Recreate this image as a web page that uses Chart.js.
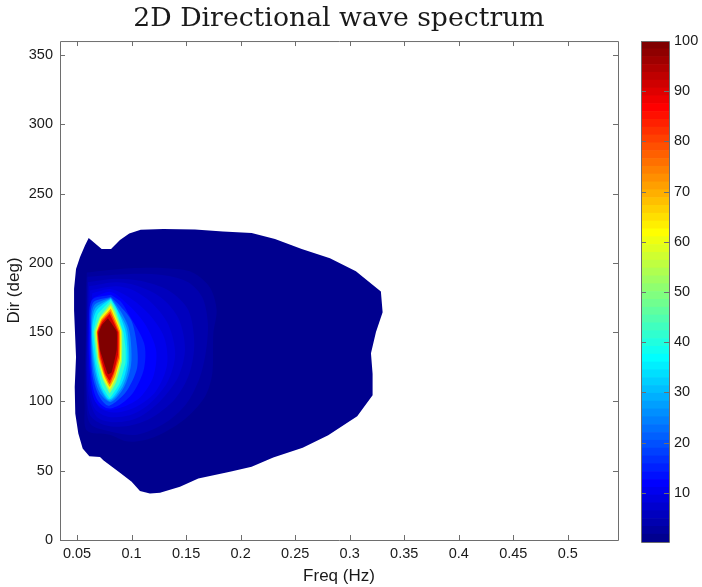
<!DOCTYPE html>
<html>
<head>
<meta charset="utf-8">
<title>2D Directional wave spectrum</title>
<script src="https://cdn.jsdelivr.net/npm/chart.js@4/dist/chart.umd.min.js"></script>
<style>
    body { margin: 0; background: #fff; }
    canvas { position: absolute; top: 0; }
    #spectrum { left: 0; }
    #colorbar { left: 620px; }
</style>
</head>
<body>
<canvas id="spectrum" width="702" height="587"></canvas>
<canvas id="colorbar" width="82" height="587"></canvas>
<script>
// Axis ticks
const freqTicks = [0.05, 0.1, 0.15, 0.2, 0.25, 0.3, 0.35, 0.4, 0.45, 0.5];
const dirTicks = [0, 50, 100, 150, 200, 250, 300, 350];
const colorTicks = [10, 20, 30, 40, 50, 60, 70, 80, 90, 100];

// Contour outlines, [freq, dir], outermost first
const level1 = [[.0607,217.9],[.0726,210],[.0812,210],[.0894,216.5],[.0979,221.2],[.1084,223.9],[.1291,224.4],[.1582,224.1],[.1838,222.5],[.2101,221.5],[.2315,217.2],[.256,210],[.2819,203.2],[.3057,193.9],[.3286,179.3],[.3302,164.4],[.3241,150],[.3195,134.8],[.321,120],[.321,104.4],[.3069,89.3],[.2803,75.6],[.2569,66.5],[.2299,59.5],[.2101,52.8],[.1902,49.2],[.1612,44.4],[.1444,38.4],[.1261,34.1],[.1169,33.6],[.1077,35.3],[.1001,42],[.0894,48.5],[.0741,57.6],[.0711,59.8],[.0613,60.5],[.0552,66],[.0512,76.8],[.0484,91.2],[.0479,110.4],[.0491,132],[.0473,165.6],[.0473,181.2],[.0491,195.6],[.0527,204],[.0573,212.4],[.0607,217.9]];
const level3 = [[.059,193],[.099,196],[.132,196],[.156,193],[.172,182],[.178,166],[.175,149],[.174,120],[.167,103],[.147,86],[.12,74],[.097,71],[.08,76],[.059,79],[.057,96],[.057,120],[.058,149],[.058,178],[.059,193]];
const level4 = [[.0595,190],[.099,192],[.13,191],[.152,186],[.165,175],[.17,156],[.168,135],[.162,116],[.15,98],[.13,84],[.105,76],[.082,78],[.062,84],[.0585,105],[.0585,150],[.0595,190]];
const level6 = [[.06,186],[.085,188.5],[.108,187],[.134,180],[.152,166],[.1575,142],[.153,120],[.14,102],[.118,88],[.095,82],[.075,83],[.062,90],[.059,108],[.059,150],[.06,186]];
const level7 = [[.061,183],[.085,186],[.105,183.5],[.127,175],[.143,160],[.149,138],[.143,118],[.126,100],[.105,88],[.085,85],[.068,89],[.06,108],[.0595,150],[.061,183]];
const level9 = [[.062,180],[.085,183],[.102,180],[.12,170],[.134,155],[.14,134],[.133,114],[.116,98],[.098,90],[.078,89],[.066,95],[.061,112],[.06,150],[.062,180]];
const level10 = [[.064,178],[.081,181],[.098,175],[.116,163],[.13,146],[.1325,126],[.122,107],[.104,96],[.085,92],[.07,96],[.063,112],[.0605,150],[.064,178]];
const level12 = [[.065,175],[.081,179],[.098,169],[.113,155],[.1225,137],[.12,118],[.108,103],[.092,96],[.076,94],[.066,101],[.062,118],[.061,150],[.065,175]];
const level15 = [[.081,177],[.09,172],[.0965,164],[.1115,142],[.1115,124],[.102,107],[.09,98],[.078,95],[.068,102],[.063,118],[.0615,150],[.0635,173],[.081,177]];
const level20 = [[.081,175.5],[.0894,169],[.1,158],[.105,140],[.105,124],[.096,108],[.086,100],[.078,97],[.07,104],[.064,120],[.0625,150],[.0645,171],[.081,175.5]];
const level25 = [[.081,175],[.09,165],[.097,154],[.0995,142],[.0995,126],[.093,110],[.081,99.5],[.071,106],[.065,122],[.063,150],[.0655,169],[.081,175]];
const level30 = [[.081,174.5],[.088,165],[.0955,153],[.0975,140],[.0975,126],[.092,111],[.08,100.5],[.072,108],[.066,124],[.0635,150],[.0665,167],[.081,174.5]];
const level35 = [[.081,174],[.087,166],[.094,152],[.096,140],[.096,127],[.091,113],[.08,101.5],[.072,110],[.067,125],[.064,150],[.0675,165],[.081,174]];
const level42 = [[.081,173],[.086,166],[.0925,150],[.0945,138],[.0945,128],[.089,113],[.08,102.5],[.073,111],[.068,127],[.065,150],[.069,163],[.081,173]];
const level52 = [[.081,171],[.085,165],[.0913,151],[.0913,129],[.086,114],[.08,106],[.074,115],[.069,129],[.066,150],[.071,161],[.081,171]];
const level62 = [[.081,169],[.0903,151],[.0903,130],[.085,116],[.08,108.5],[.074,117],[.07,130],[.0675,150],[.0715,160],[.081,169]];
const level72 = [[.081,167],[.0894,151],[.0894,131],[.085,118],[.08,110.5],[.075,118],[.07,131],[.068,150],[.072,159],[.081,167]];
const level82 = [[.0805,165],[.0885,150],[.0885,132],[.084,120],[.08,112.5],[.075,120],[.071,131],[.0685,150],[.0725,158],[.0805,165]];
const level92 = [[.08,163],[.0876,150],[.0876,134],[.084,122],[.08,115],[.076,120],[.0715,133],[.069,150],[.073,157],[.08,163]];
const level100 = [[.0784,160],[.0864,150.5],[.0864,137],[.0818,121],[.0784,119.5],[.0711,137],[.0697,149],[.0727,155],[.0784,160]];

const contourLevels = [1.5, 3, 4.5, 6, 7.5, 9, 10.5, 12.5, 15.5, 20.5, 25.5, 30.5, 35.5, 42, 52, 62, 72, 82, 92, 100];
const contourLines = [level1, level3, level4, level6, level7, level9, level10, level12, level15, level20,
    level25, level30, level35, level42, level52, level62, level72, level82, level92, level100];

// Edges of the colour bar bands
const colorEdges = [0.2, 1.76, 3.32, 4.88, 6.44, 8, 9.56, 11.11, 12.67, 14.23, 15.79, 17.35, 18.91, 20.47, 22.03, 23.59,
    25.15, 26.71, 28.27, 29.83, 31.39, 32.95, 34.51, 36.07, 37.63, 39.19, 40.75, 42.3, 43.86, 45.42, 46.98, 48.54,
    50.1, 51.66, 53.22, 54.78, 56.34, 57.9, 59.46, 61.02, 62.58, 64.14, 65.7, 67.26, 68.82, 70.38, 71.94, 73.5,
    75.05, 76.61, 78.17, 79.73, 81.29, 82.85, 84.41, 85.97, 87.53, 89.09, 90.65, 92.21, 93.77, 95.33, 96.89, 98.44, 100];

const AXIS_COLOR = '#6e6e6e';
const TEXT_COLOR = '#1a1a1a';
const SANS = '"Liberation Sans", Arial, sans-serif';

// matlab style jet colormap, t from 0 to 1
function jet(t) {
    const part = v => Math.round(255 * Math.max(0, Math.min(1, 1.5 - Math.abs(4 * t - v))));
    return `rgb(${part(3)}, ${part(2)}, ${part(1)})`;
}

// Box round the plot with ticks pointing inwards, on both sides
const insideTicks = {
    id: 'insideTicks',
    afterDatasetsDraw(chart, args, opts) {
        const { ctx, chartArea: a } = chart;
        ctx.save();
        ctx.strokeStyle = AXIS_COLOR;
        ctx.lineWidth = 1;
        ctx.beginPath();
        ctx.rect(a.left + 0.5, a.top + 0.5, a.right - a.left, a.bottom - a.top);
        const xScale = chart.scales.x;
        if (xScale.options.display) {
            xScale.ticks.forEach(t => {
                const x = Math.round(xScale.getPixelForValue(t.value)) + 0.5;
                ctx.moveTo(x, a.bottom); ctx.lineTo(x, a.bottom - opts.length);
                ctx.moveTo(x, a.top); ctx.lineTo(x, a.top + opts.length);
            });
        }
        const yScale = chart.scales.y;
        yScale.ticks.forEach(t => {
            const y = Math.round(yScale.getPixelForValue(t.value)) + 0.5;
            ctx.moveTo(a.left, y); ctx.lineTo(a.left + opts.length, y);
            ctx.moveTo(a.right, y); ctx.lineTo(a.right - opts.length, y);
        });
        ctx.stroke();
        ctx.restore();
    }
};

new Chart(document.getElementById('spectrum'), {
    type: 'scatter',
    plugins: [insideTicks],
    data: {
        datasets: contourLines.map((line, i) => ({
            data: line.map(p => ({ x: p[0], y: p[1] })),
            showLine: true,
            fill: 'shape',
            backgroundColor: jet(contourLevels[i] / 100),
            borderWidth: 0,
            pointRadius: 0,
            tension: i === 0 ? 0 : (i < 13 ? 0.3 : 0.1),
            order: -i
        }))
    },
    options: {
        responsive: false,
        animation: false,
        events: [],
        layout: { padding: { right: 84 } },
        plugins: {
            legend: { display: false },
            tooltip: { enabled: false },
            insideTicks: { length: 5 },
            title: {
                display: true,
                fullSize: false,
                text: '2D Directional wave spectrum',
                color: TEXT_COLOR,
                font: { family: '"DejaVu Serif", serif', size: 26.7, weight: 'normal', lineHeight: 1.2 },
                padding: { top: 3, bottom: 6 }
            }
        },
        scales: {
            x: {
                type: 'linear',
                min: 0.0344,
                max: 0.546,
                afterBuildTicks: axis => { axis.ticks = freqTicks.map(v => ({ value: v })); },
                afterFit: axis => { axis.height = 47; },
                grid: { display: false, drawTicks: false },
                border: { display: false },
                ticks: {
                    color: TEXT_COLOR, padding: 5, maxRotation: 0, autoSkip: false,
                    font: { family: SANS, size: 14.5 },
                    callback: v => String(v)
                },
                title: { display: true, text: 'Freq (Hz)', color: TEXT_COLOR, font: { family: SANS, size: 17 }, padding: 0 }
            },
            y: {
                type: 'linear',
                min: 0,
                max: 360,
                afterBuildTicks: axis => { axis.ticks = dirTicks.map(v => ({ value: v })); },
                afterFit: axis => { axis.width = 60; },
                grid: { display: false, drawTicks: false },
                border: { display: false },
                ticks: {
                    color: TEXT_COLOR, padding: 7, autoSkip: false,
                    font: { family: SANS, size: 14.5 },
                    callback: v => String(v)
                },
                title: { display: true, text: 'Dir (deg)', color: TEXT_COLOR, font: { family: SANS, size: 17 }, padding: { top: 4, bottom: 0 } }
            }
        }
    }
});

new Chart(document.getElementById('colorbar'), {
    type: 'bar',
    plugins: [insideTicks],
    data: {
        labels: [''],
        datasets: colorEdges.slice(1).map((top, i) => ({
            data: [[colorEdges[i], top]],
            backgroundColor: jet((i + 1) / (colorEdges.length - 1)),
            borderWidth: 0,
            barPercentage: 1,
            categoryPercentage: 1,
            grouped: false
        }))
    },
    options: {
        responsive: false,
        animation: false,
        events: [],
        layout: { padding: { left: 21, top: 41, bottom: 45 } },
        plugins: {
            legend: { display: false },
            tooltip: { enabled: false },
            insideTicks: { length: 5 }
        },
        scales: {
            x: { display: false },
            y: {
                position: 'right',
                min: 0.2,
                max: 100,
                afterBuildTicks: axis => { axis.ticks = colorTicks.map(v => ({ value: v })); },
                afterFit: axis => { axis.width = 33; },
                grid: { display: false, drawTicks: false },
                border: { display: false },
                ticks: {
                    color: TEXT_COLOR, padding: 5, autoSkip: false,
                    font: { family: SANS, size: 14.5 },
                    callback: v => String(v)
                }
            }
        }
    }
});
</script>
</body>
</html>
